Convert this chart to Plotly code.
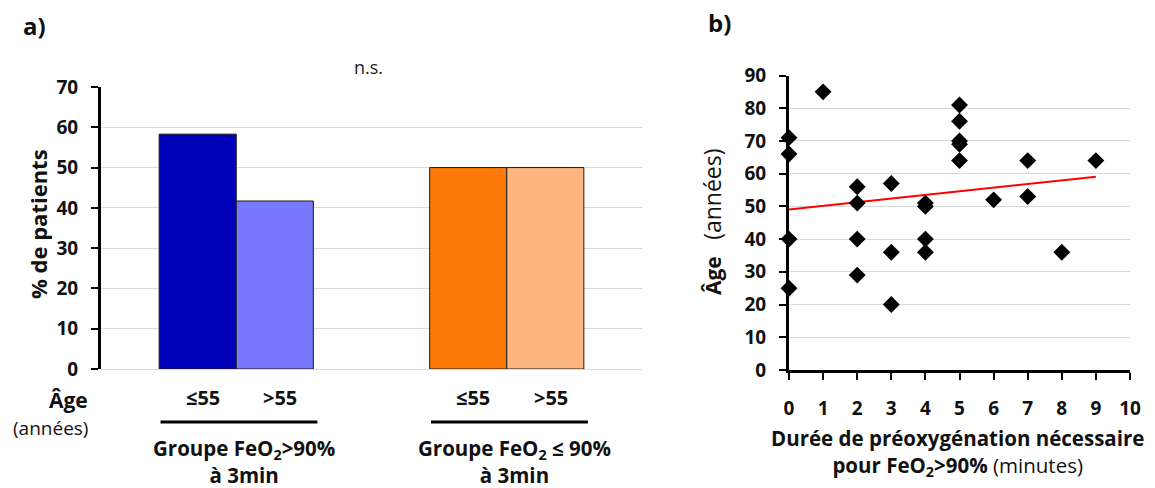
import numpy as np
import plotly.graph_objects as go

# ---------------- data ----------------
groups = ["Groupe FeO<sub>2</sub>>90%<br>à 3min", "Groupe FeO<sub>2</sub> ≤ 90%<br>à 3min"]
age_labels = ["≤55", ">55"]
pct_le55 = [58.3, 50.0]
pct_gt55 = [41.7, 50.0]
colors_le55 = ["#0000B8", "#FF780A"]
colors_gt55 = ["#7878FF", "#FFB57E"]

duree = [0, 0, 0, 0, 1, 2, 2, 2, 2, 3, 3, 3, 4, 4, 4, 4, 5, 5, 5, 5, 5, 6, 7, 7, 8, 9]
age = [71, 66, 40, 25, 85, 56, 51, 40, 29, 57, 36, 20, 51, 50, 40, 36, 81, 76, 70, 69, 64, 52, 64, 53, 36, 64]

FONT = "Open Sans"
TXT = "#111"
W, H = 1155, 488
OFF = 8  # page body margin offset


def X(p):
    return (p - OFF) / W


def Y(p):
    return 1 - (p - OFF) / H


def f(size, bold=False, color=TXT):
    d = dict(family=FONT, size=size, color=color)
    if bold:
        d["weight"] = "bold"
    return d


fig = go.Figure()

cat_idx = list(range(len(groups)))
fig.add_trace(go.Bar(x=cat_idx, y=pct_le55, marker=dict(color=colors_le55, line=dict(color="#1a1a1a", width=1)),
                     xaxis="x", yaxis="y", showlegend=False, name=age_labels[0]))
fig.add_trace(go.Bar(x=cat_idx, y=pct_gt55, marker=dict(color=colors_gt55, line=dict(color="#1a1a1a", width=1)),
                     xaxis="x", yaxis="y", showlegend=False, name=age_labels[1]))

# scatter + regression line
xs = np.array(duree, dtype=float)
ys = np.array(age, dtype=float)
slope, intercept = np.polyfit(xs, ys, 1)
xl = np.array([xs.min(), xs.max()])
fig.add_trace(go.Scatter(x=xl, y=slope * xl + intercept, mode="lines", line=dict(color="#FF0000", width=2),
                         xaxis="x2", yaxis="y2", showlegend=False))
fig.add_trace(go.Scatter(x=duree, y=age, mode="markers", marker=dict(symbol="diamond", size=13, color="black"),
                         xaxis="x2", yaxis="y2", showlegend=False, cliponaxis=False))

tickfont = f(19, bold=True)
axis_common = dict(automargin=False)

fig.update_layout(
    width=W, height=H, margin=dict(l=0, r=0, t=0, b=0, autoexpand=False),
    paper_bgcolor="white", plot_bgcolor="white",
    font=dict(family=FONT, color=TXT),
    barmode="group", bargap=0.43, bargroupgap=0,
    xaxis=dict(domain=[X(101), X(642)], range=[-0.5, 1.5], showticklabels=False, showgrid=False,
               zeroline=False, showline=False, ticks="", **axis_common),
    yaxis=dict(domain=[Y(369), Y(87)], range=[0, 70], dtick=10, showgrid=True, gridcolor="#D9D9D9", gridwidth=1,
               zeroline=True, zerolinecolor="#D9D9D9", zerolinewidth=1,
               showline=True, linecolor="black", linewidth=3, ticks="outside", ticklen=7, tickwidth=2,
               tickcolor="black", tickfont=tickfont, ticklabelstandoff=9, anchor="x", **axis_common),
    xaxis2=dict(domain=[X(789), X(1130)], range=[0, 10], dtick=1, showgrid=False, zeroline=False,
                showline=True, linecolor="black", linewidth=3, ticks="outside", ticklen=7, tickwidth=2,
                tickcolor="black", tickfont=tickfont, ticklabelstandoff=12, anchor="y2", **axis_common),
    yaxis2=dict(domain=[Y(370), Y(75.5)], range=[0, 90], dtick=10, showgrid=True, gridcolor="#D9D9D9", gridwidth=1,
                zeroline=False, showline=True, linecolor="black", linewidth=3, ticks="outside", ticklen=7,
                tickwidth=2, tickcolor="black", tickfont=tickfont, ticklabelstandoff=9, anchor="x2",
                **axis_common),
)

off = 0.143
shift = 0.02
ann = []
for i in cat_idx:
    ann.append(dict(x=i - off + shift, y=Y(397), xref="x", yref="paper", text=age_labels[0],
                    xanchor="center", yanchor="middle", showarrow=False, font=f(20, bold=True)))
    ann.append(dict(x=i + off + shift, y=Y(397), xref="x", yref="paper", text=age_labels[1],
                    xanchor="center", yanchor="middle", showarrow=False, font=f(20, bold=True)))
    ann.append(dict(x=i + 0.03, y=Y(461.5), xref="x", yref="paper", text=groups[i],
                    xanchor="center", yanchor="middle", showarrow=False, font=f(20.5, bold=True)))
fig.update_layout(shapes=[dict(type="line", xref="x", yref="paper", x0=i - 0.28, x1=i + 0.30,
                               y0=Y(422), y1=Y(422), line=dict(color="black", width=3))
                          for i in cat_idx])


def pa(x, y, text, font, xanchor="center", **kw):
    return dict(x=X(x), y=Y(y), xref="paper", yref="paper", text=text, xanchor=xanchor, yanchor="middle",
                showarrow=False, font=font, **kw)


ann += [
    pa(38, 224, "% de patients", f(22, bold=True), textangle=-90),
    pa(712, 222, "<b>Âge</b>&nbsp;&nbsp;&nbsp;<span style='font-size:23px'>(années)</span>", f(21),
       textangle=-90),
    pa(90, 400, "Âge", f(21, bold=True), xanchor="right"),
    pa(90, 428, "(années)", f(19), xanchor="right"),
    pa(34, 26, "a)", f(24, bold=True)),
    pa(719, 23, "b)", f(24, bold=True)),
    pa(369, 67, "n.s.", f(18, color="#222")),
    pa(957, 452, "<b>Durée de préoxygénation nécessaire</b><br><b>pour FeO<sub>2</sub>>90%</b> (minutes)",
       f(20.5)),
]
fig.update_layout(annotations=ann)

fig.write_html("out.html")
